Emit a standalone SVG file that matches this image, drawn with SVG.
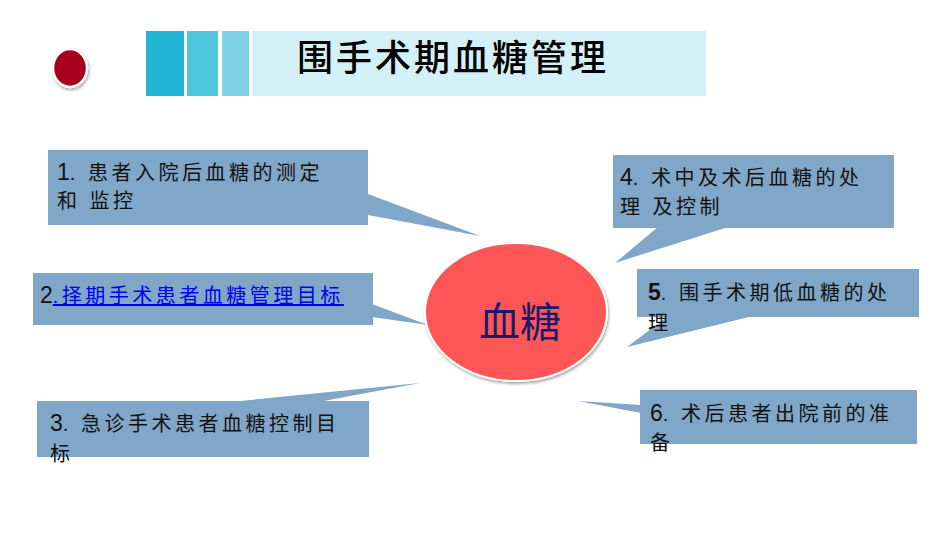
<svg xmlns="http://www.w3.org/2000/svg" width="950" height="535" viewBox="0 0 950 535">
<defs>
<filter id="sh" x="-20%" y="-20%" width="140%" height="140%">
<feDropShadow dx="1" dy="2" stdDeviation="1.5" flood-color="#000" flood-opacity="0.35"/>
</filter>
<style>
.co{fill:#80a6c8;}
.t{font-family:"Liberation Sans","Noto Sans CJK SC",sans-serif;font-size:20px;fill:#111;letter-spacing:3.5px;}
.num{font-size:23px;letter-spacing:0;}
</style>
</defs>
<rect width="950" height="535" fill="#fff"/>
<g id="header">
<rect x="146" y="31" width="38" height="65" fill="#22b5d6"/>
<rect x="187" y="31" width="31" height="65" fill="#4fc4dd"/>
<rect x="222" y="31" width="27" height="65" fill="#7fd3e6"/>
<rect x="252" y="31" width="454" height="65" fill="#d3f0f6"/>
<text x="453" y="71" text-anchor="middle" font-family="Noto Sans CJK SC,sans-serif" font-size="36" font-weight="500" letter-spacing="3" fill="#000">围手术期血糖管理</text>
</g>
<g id="bullet">
<ellipse cx="70" cy="68" rx="17" ry="19" fill="#a8001c" stroke="#fff" stroke-width="2.5" filter="url(#sh)"/>
</g>
<g id="connectors">
<polygon class="co" points="368,194 368,215 480,236"/>
<polygon class="co" points="372,304 372,317 428,325"/>
<polygon class="co" points="230,402 318,402 420,383"/>
<polygon class="co" points="658,227 728,227 615,263"/>
<polygon class="co" points="668,316 753,316 627,347"/>
<polygon class="co" points="641,405 641,413 578,401"/>
</g>
<g id="center">
<ellipse cx="516" cy="312" rx="91" ry="69" fill="#fe5656" stroke="#fff" stroke-width="2" filter="url(#sh)"/>
<text x="520" y="337" text-anchor="middle" font-family="Noto Sans CJK SC,sans-serif" font-size="41" fill="#1b1b6b">血糖</text>
</g>
<g id="n1">
<rect class="co" x="48" y="150" width="320" height="75"/>
<text class="t" x="57" y="180"><tspan class="num">1</tspan>. 患者入院后血糖的测定</text>
<text class="t" x="57" y="208">和  监控</text>
</g>
<g id="n2">
<rect class="co" x="33" y="273" width="340" height="52"/>
<text class="t" x="40" y="303"><tspan class="num">2</tspan><tspan fill="#0000ee" text-decoration="underline">.择期手术患者血糖管理目标</tspan></text>
</g>
<g id="n3">
<rect class="co" x="37" y="401" width="332" height="56"/>
<text class="t" x="50" y="431"><tspan class="num">3</tspan>. 急诊手术患者血糖控制目</text>
<text class="t" x="50" y="461">标</text>
</g>
<g id="n4">
<rect class="co" x="613" y="155" width="281" height="73"/>
<text class="t" x="620" y="185"><tspan class="num">4</tspan>. 术中及术后血糖的处</text>
<text class="t" x="620" y="214">理  及控制</text>
</g>
<g id="n5">
<rect class="co" x="637" y="269" width="282" height="48"/>
<text class="t" x="648" y="300"><tspan class="num" font-weight="bold">5</tspan>. 围手术期低血糖的处</text>
<text class="t" x="648" y="330">理</text>
</g>
<g id="n6">
<rect class="co" x="640" y="390" width="277" height="54"/>
<text class="t" x="650" y="421"><tspan class="num">6</tspan>. 术后患者出院前的准</text>
<text class="t" x="650" y="450">备</text>
</g>
</svg>
